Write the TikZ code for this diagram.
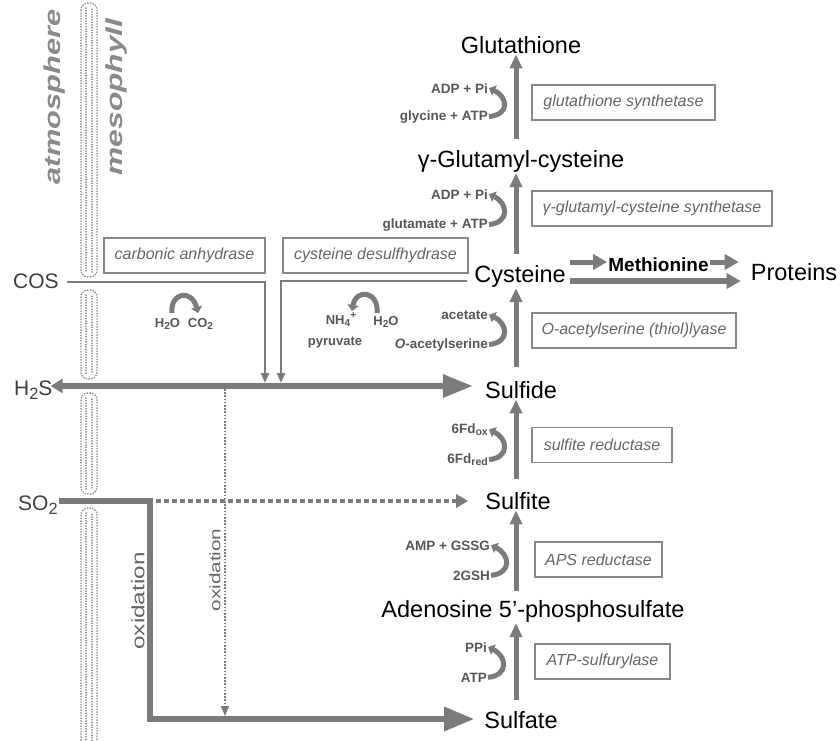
\documentclass[tikz,border=0pt]{standalone}
\usepackage{fontspec}
\setmainfont{Liberation Sans}
\usetikzlibrary{arrows.meta,calc}

\definecolor{arr}{HTML}{7B7B7B}
\definecolor{sidegray}{HTML}{575757}
\definecolor{boxgray}{HTML}{888888}
\definecolor{enzgray}{HTML}{666666}
\definecolor{dark}{HTML}{404040}
\definecolor{atmgray}{HTML}{8A8A8A}
\definecolor{stomagray}{HTML}{888888}

% subscripts a little larger than \textsubscript
\newcommand{\lowidx}[1]{\raisebox{-0.4ex}{\scalebox{0.78}{#1}}}
\newcommand{\highidx}[1]{\raisebox{0.8ex}{\scalebox{0.78}{#1}}}

\begin{document}
\begin{tikzpicture}[x=1pt,y=-1pt,
  metab/.style={font=\fontsize{23.5}{28}\selectfont, inner sep=1pt, anchor=base},
  gas/.style={font=\fontsize{21}{25}\selectfont, text=dark, inner sep=1pt, anchor=base west},
  sidelabel/.style={font=\bfseries\fontsize{13.5}{16}\selectfont, text=sidegray, inner sep=1pt, anchor=base east},
  minor/.style={font=\bfseries\fontsize{13}{15}\selectfont, text=sidegray, inner sep=0pt, anchor=base},
  enz/.style={draw=boxgray, line width=1.7pt, font=\itshape\fontsize{16}{19}\selectfont, text=enzgray, minimum height=35pt, inner sep=0pt},
  vstep/.style={draw=arr, line width=5pt, -{Triangle[length=14pt,width=12pt]}, shorten <=10pt},
  curl/.style={draw=arr, line width=5pt, -{Triangle[length=6pt,width=11pt]}},
  feed/.style={draw=arr, line width=2pt, -{Triangle[length=10pt,width=8pt]}},
  trunk/.style={draw=arr, line width=6pt},
  branch/.style={draw=arr, line width=5pt, -{Triangle[length=14pt,width=15pt]}},
  stomaline/.style={draw=stomagray, line width=1.3pt, dash pattern=on 1.4pt off 1.3pt, rounded corners=7pt},
  stomadots/.style={draw=stomagray, line width=1.7pt, line cap=round, dash pattern=on 0.1pt off 2.5pt},
]
\useasboundingbox[fill=white] (0,0) rectangle (840,740);

% stomatal band between atmosphere and mesophyll
\foreach \a/\b in {3/277, 290/379, 393/494, 508/748} {
  \draw[stomaline] (81,\a) rectangle (97,\b);
  \draw[stomadots] (86,\a+5) -- (86,\b-5);
  \draw[stomadots] (92,\a+6.3) -- (92,\b-5);
}

\node[rotate=90, text=atmgray, font=\bfseries\itshape\fontsize{23}{26}\selectfont] (atm) at (55,97) {\scalebox{1.34}[1]{atmosphere}};
\node[rotate=90, text=atmgray, font=\bfseries\itshape\fontsize{23}{26}\selectfont] (meso) at (117,97) {\scalebox{1.38}[1]{mesophyll}};

% metabolites
\node[metab] (glut) at (521,53) {Glutathione};
\node[metab] (ggc) at (521,167) {γ-Glutamyl-cysteine};
\node[metab] (cys) at (520,282) {Cysteine};
\node[metab] (sulfide) at (521,398) {Sulfide};
\node[metab] (sulfite) at (518,509) {Sulfite};
\node[metab] (aps) at (533,617) {Adenosine 5’-phosphosulfate};
\node[metab] (sulfate) at (521,728) {Sulfate};
\node[metab, font=\bfseries\fontsize{19}{22}\selectfont] (met) at (658.5,271) {Methionine};
\node[metab] (prot) at (794,280) {Proteins};

% atmospheric gases
\node[gas] (cos) at (12,288) {COS};
\node[gas] (h2s) at (13,395) {H\lowidx{2}S};
\node[gas] (so2) at (17,510) {SO\lowidx{2}};

% enzymes
\node[enz, minimum width=183pt] (gs) at (623.5,102.5) {glutathione synthetase};
\node[enz, minimum width=240pt] (ggcs) at (652,208.5) {γ-glutamyl-cysteine synthetase};
\node[enz, minimum width=204pt] (oasl) at (634,330.5) {\textit{O}-acetylserine (thiol)lyase};
\node[enz, minimum width=140pt] (sr) at (602,445) {sulfite reductase};
\node[enz, minimum width=127pt] (apsr) at (598.5,559.5) {APS reductase};
\node[enz, minimum width=135pt] (atps) at (602.5,661.5) {ATP-sulfurylase};
\node[enz, minimum width=161pt] (ca) at (184.5,255.5) {carbonic anhydrase};
\node[enz, minimum width=185pt] (cd) at (375.5,255.5) {cysteine desulfhydrase};

% co-substrates beside each step
\node[sidelabel] (adp1) at (489,93) {ADP + Pi};
\node[sidelabel] (gly) at (489,120) {glycine + ATP};
\node[sidelabel] (adp2) at (489,199) {ADP + Pi};
\node[sidelabel] (glu) at (489,228) {glutamate + ATP};
\node[sidelabel] (acet) at (489,319) {acetate};
\node[sidelabel] (oser) at (489,348) {\textit{O}-acetylserine};
\node[sidelabel] (fdox) at (489,433) {6Fd\lowidx{ox}};
\node[sidelabel] (fdred) at (489,463) {6Fd\lowidx{red}};
\node[sidelabel] (amp) at (491,550) {AMP + GSSG};
\node[sidelabel] (gsh) at (491,580) {2GSH};
\node[sidelabel] (ppi) at (488,652) {PPi};
\node[sidelabel] (atp) at (488,682) {ATP};

\node[minor] (cah2o) at (167.5,327) {H\lowidx{2}O};
\node[minor] (caco2) at (200.5,327) {CO\lowidx{2}};
\node[minor] (nh4) at (341,324) {NH\lowidx{4}\highidx{+}};
\node[minor] (cdh2o) at (386,325) {H\lowidx{2}O};
\node[minor] (pyr) at (335,345) {pyruvate};

% pathway axis
\coordinate (ax) at (516,0);
\draw[vstep] (ggc.north -| ax) -- (glut.south -| ax);
\draw[vstep] (cys.north -| ax) -- (ggc.south -| ax);
\draw[vstep, shorten <=13pt] (sulfide.north -| ax) -- (cys.south -| ax);
\draw[vstep, shorten <=12pt] (sulfite.north -| ax) -- (sulfide.south -| ax);
\draw[vstep, shorten <=8pt] (aps.north -| ax) -- (sulfite.south -| ax);
\draw[vstep] (sulfate.north -| ax) -- (aps.south -| ax);

% co-substrate turnover
\draw[curl] (gly.east) .. controls +(21,-2) and +(19,9) .. (adp1.east);
\draw[curl] (glu.east) .. controls +(21,-2) and +(19,9) .. (adp2.east);
\draw[curl] (oser.east) .. controls +(21,-2) and +(19,9) .. (acet.east);
\draw[curl] (fdred.east) .. controls +(21,-2) and +(19,9) .. (fdox.east);
\draw[curl] (gsh.east) .. controls +(21,-2) and +(19,9) .. (amp.east);
\draw[curl] (atp.east) .. controls +(21,-2) and +(19,9) .. (ppi.east);

\coordinate (caL) at (172,313);
\coordinate (caR) at (198,313);
\draw[curl] (caL) .. controls (170,292) and (192,289) .. (caR);
\coordinate (cdR) at (377,313);
\coordinate (cdL) at (352,311);
\draw[curl] (cdR) .. controls (379,291) and (356,288) .. (cdL);

% cysteine onward
\coordinate (my) at (0,262);
\coordinate (py) at (0,281);
\draw[branch, shorten <=3pt] (cys.east |- my) -- (met.west |- my);
\draw[branch] (met.east |- my) -- ([xshift=-11pt]prot.west |- my);
\draw[branch, line width=6pt, shorten <=3pt] (cys.east |- py) -- ([xshift=-9pt]prot.west |- py);

% H2S entry and formation
\coordinate (hy) at (0,386);
\draw[trunk, {Triangle[length=12pt,width=14pt]}-{Triangle[length=30pt,width=22pt]}, shorten <=-3pt, shorten >=11pt] (h2s.east |- hy) -- (sulfide.west |- hy);

\coordinate (cosy) at (0,282);
\coordinate (caend) at (265,383);
\draw[feed, shorten <=7pt] (cos.east |- cosy) -| (caend);
\coordinate (cdy) at (0,281);
\coordinate (cdend) at (281,383);
\draw[feed, shorten <=6pt] (cys.west |- cdy) -| (cdend);

% SO2 entry
\coordinate (sy) at (0,501);
\coordinate (sc1) at (150,501);
\coordinate (sc2) at (150,719);
\coordinate (sfy) at (0,719);
\draw[trunk, -{Triangle[length=30pt,width=23pt]}, shorten >=9pt] (so2.east |- sy) -- (sc1) -- (sc2) -- (sulfate.west |- sfy);
\coordinate (dashstart) at (156,501);
\draw[draw=arr, line width=4.5pt, dash pattern=on 5pt off 3pt, -{Triangle[length=12pt,width=13pt]}, shorten >=16pt] (dashstart) -- (sulfite.west |- sy);

% oxidation of sulfide to sulfate
\coordinate (ox1) at (225,389);
\coordinate (ox2) at (225,716);
\draw[draw=arr, line width=1.6pt, dash pattern=on 1.6pt off 1.6pt, -{Triangle[length=10pt,width=8pt]}] (ox1) -- (ox2);

\node[rotate=90, text=enzgray, font=\fontsize{18}{20}\selectfont] (oxa) at (138,601) {\scalebox{1.35}[1]{oxidation}};
\node[rotate=90, text=enzgray, font=\fontsize{15}{18}\selectfont] (oxb) at (215,570) {\scalebox{1.38}[1]{oxidation}};
\end{tikzpicture}
\end{document}
